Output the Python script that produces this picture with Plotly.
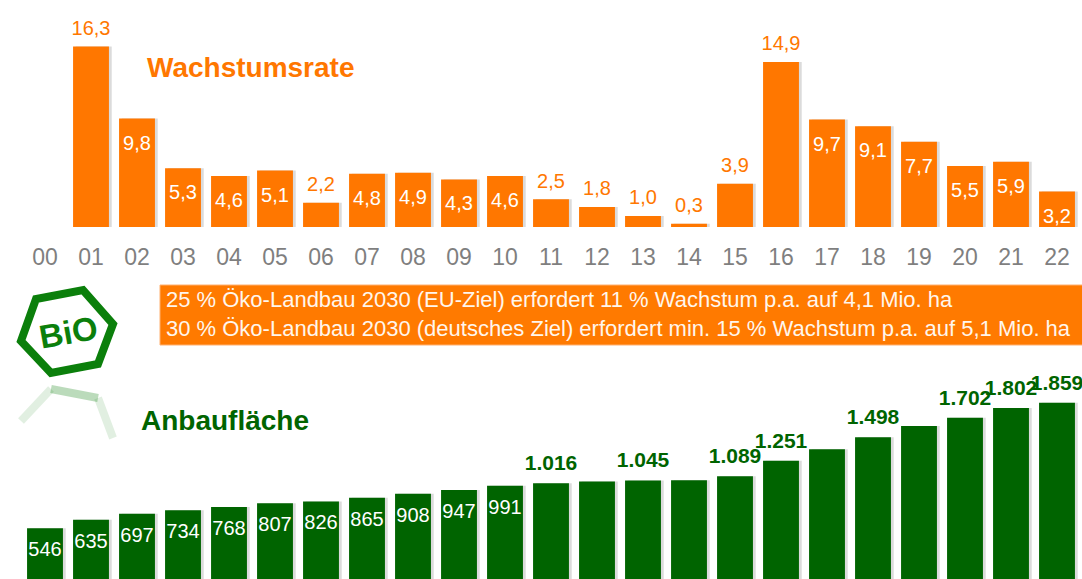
import plotly.graph_objects as go

# ---------------- data ----------------
years = ["00", "01", "02", "03", "04", "05", "06", "07", "08", "09", "10", "11",
         "12", "13", "14", "15", "16", "17", "18", "19", "20", "21", "22"]

# Wachstumsrate (%) – no value for 2000
growth = [None, 16.3, 9.8, 5.3, 4.6, 5.1, 2.2, 4.8, 4.9, 4.3, 4.6, 2.5,
          1.8, 1.0, 0.3, 3.9, 14.9, 9.7, 9.1, 7.7, 5.5, 5.9, 3.2]
growth_label_pos = ["", "out", "in", "in", "in", "in", "out", "in", "in", "in", "in", "out",
                    "out", "out", "out", "out", "out", "in", "in", "in", "in", "in", "in"]

# Anbaufläche (1.000 ha)
area = [546, 635, 697, 734, 768, 807, 826, 865, 908, 947, 991, 1016,
        1034, 1045, 1048, 1089, 1251, 1373, 1498, 1614, 1702, 1802, 1859]
area_label_pos = ["in", "in", "in", "in", "in", "in", "in", "in", "in", "in", "in", "out",
                  "", "out", "", "out", "out", "", "out", "", "out", "out", "out"]

title_growth = "Wachstumsrate"
title_area = "Anbaufläche"
banner_lines = [
    "25 % Öko-Landbau 2030 (EU-Ziel) erfordert 11 % Wachstum p.a. auf 4,1 Mio. ha",
    "30 % Öko-Landbau 2030 (deutsches Ziel) erfordert min. 15 % Wachstum p.a. auf 5,1 Mio. ha",
]

# ---------------- style ----------------
W, H = 1082, 579
ORANGE = "#FF7700"
GREEN = "#006400"
LOGO_GREEN = "#0B7F0B"
GREY = "#7F7F7F"
SANS = "Liberation Sans, Arial, sans-serif"

TOP_BASE = 227      # window y of growth baseline
TOP_PPU = 11.07     # pixels per % point
BOT_BASE = 580.5    # window y of area baseline
BOT_PPU = 0.09566   # pixels per 1.000 ha
BOT_TOP = 360       # window y of top of area plot domain


def px(x):
    return x / W


def py(y):
    return 1 - y / H


def fmt_growth(v):
    return f"{v:.1f}".replace(".", ",")


def fmt_area(v):
    return f"{v:,}".replace(",", ".")


fig = go.Figure()

# ---- top chart: growth rate ----
fig.add_trace(go.Bar(
    x=years, y=growth, marker=dict(color="rgba(90,90,90,0.22)", line=dict(width=0)),
    width=0.78, offset=-0.39 + 0.06, xaxis="x", yaxis="y", hoverinfo="skip", showlegend=False,
))
fig.add_trace(go.Bar(
    x=years, y=growth, marker=dict(color=ORANGE, line=dict(width=0)),
    width=0.78, offset=-0.39, xaxis="x", yaxis="y", hoverinfo="skip", showlegend=False,
))
g_text, g_pos, g_size, g_col = [], [], [], []
for v, p in zip(growth, growth_label_pos):
    g_text.append("" if v is None else fmt_growth(v))
    if p == "in":
        g_pos.append("bottom center"); g_size.append(24); g_col.append("white")
    else:
        g_pos.append("top center"); g_size.append(9); g_col.append(ORANGE)
fig.add_trace(go.Scatter(
    x=years, y=growth, mode="markers+text", text=g_text, textposition=g_pos,
    marker=dict(size=g_size, color="rgba(0,0,0,0)", line=dict(width=0)),
    textfont=dict(family=SANS, size=20, color=g_col),
    xaxis="x", yaxis="y", hoverinfo="skip", showlegend=False, cliponaxis=False,
))

# ---- bottom chart: area ----
fig.add_trace(go.Bar(
    x=years, y=area, marker=dict(color="rgba(90,90,90,0.22)", line=dict(width=0)),
    width=0.78, offset=-0.39 + 0.06, xaxis="x2", yaxis="y2", hoverinfo="skip", showlegend=False,
))
fig.add_trace(go.Bar(
    x=years, y=area, marker=dict(color=GREEN, line=dict(width=0)),
    width=0.78, offset=-0.39, xaxis="x2", yaxis="y2", hoverinfo="skip", showlegend=False,
))
a_text, a_pos, a_size, a_col, a_fs = [], [], [], [], []
for v, p in zip(area, area_label_pos):
    if p == "in":
        a_text.append(fmt_area(v)); a_pos.append("bottom center"); a_size.append(19)
        a_col.append("white"); a_fs.append(20)
    elif p == "out":
        a_text.append("<b>" + fmt_area(v) + "</b>"); a_pos.append("top center"); a_size.append(11)
        a_col.append(GREEN); a_fs.append(21)
    else:
        a_text.append(""); a_pos.append("top center"); a_size.append(1)
        a_col.append(GREEN); a_fs.append(21)
fig.add_trace(go.Scatter(
    x=years, y=area, mode="markers+text", text=a_text, textposition=a_pos,
    marker=dict(size=a_size, color="rgba(0,0,0,0)", line=dict(width=0)),
    textfont=dict(family=SANS, size=a_fs, color=a_col),
    xaxis="x2", yaxis="y2", hoverinfo="skip", showlegend=False, cliponaxis=False,
))

# category index -> window x: 45 + 46 * i
xr = [-45 / 46, (1082 - 45) / 46]
fig.update_layout(
    width=W, height=H, margin=dict(l=0, r=0, t=0, b=0),
    paper_bgcolor="white", plot_bgcolor="rgba(0,0,0,0)",
    barmode="overlay",
    xaxis=dict(type="category", range=xr, domain=[0, 1], anchor="y",
               showgrid=False, zeroline=False, showline=False,
               ticks="outside", ticklen=9, tickcolor="rgba(0,0,0,0)",
               tickfont=dict(family=SANS, size=23, color=GREY)),
    yaxis=dict(domain=[py(TOP_BASE), 1], range=[0, TOP_BASE / TOP_PPU], anchor="x",
               visible=False),
    xaxis2=dict(type="category", range=xr, domain=[0, 1], anchor="y2",
                visible=False),
    yaxis2=dict(domain=[0, py(BOT_TOP)],
                range=[(BOT_BASE - 579) / BOT_PPU, (BOT_BASE - BOT_TOP) / BOT_PPU],
                anchor="x2", visible=False),
)

# titles
fig.add_annotation(x=px(145), y=py(67), xref="paper", yref="paper", text="<b>" + title_growth + "</b>",
                   showarrow=False, xanchor="left", yanchor="middle",
                   font=dict(family=SANS, size=28, color=ORANGE))
fig.add_annotation(x=px(139), y=py(420), xref="paper", yref="paper", text="<b>" + title_area + "</b>",
                   showarrow=False, xanchor="left", yanchor="middle",
                   font=dict(family=SANS, size=28, color=GREEN))

# banner
fig.add_shape(type="rect", xref="paper", yref="paper", x0=px(160), x1=px(1090), y0=py(345), y1=py(285),
              fillcolor="#FF7A00", line=dict(width=1, color="#FFB070"), layer="below")
fig.add_annotation(x=px(164), y=py(314), xref="paper", yref="paper",
                   text="<br>".join(banner_lines), showarrow=False, xanchor="left", yanchor="middle",
                   align="left", font=dict(family=SANS, size=22, color="#FFF6EC"))

# BIO logo (hexagon + text) and its faded reflection
hexagon = [(21, 341), (36, 299), (83, 290), (113, 324), (98, 364), (51, 373)]
path = "M " + " L ".join(f"{px(x)},{py(y)}" for x, y in hexagon) + " Z"
fig.add_shape(type="path", xref="paper", yref="paper", path=path,
              line=dict(color=LOGO_GREEN, width=8), fillcolor="rgba(0,0,0,0)")
fig.add_annotation(x=px(68), y=py(332), xref="paper", yref="paper", text="<b>BiO</b>",
                   showarrow=False, textangle=-10, xanchor="center", yanchor="middle",
                   font=dict(family=SANS, size=33, color=LOGO_GREEN))
mirror = 381
refl = [(21, 341), (51, 373), (98, 364), (113, 324)]
refl = [(x, 2 * mirror - y) for x, y in refl]
segs = [(refl[0], refl[1], 0.12), (refl[1], refl[2], 0.28), (refl[2], refl[3], 0.12)]
for (x0, y0), (x1, y1), op in segs:
    fig.add_shape(type="line", xref="paper", yref="paper", x0=px(x0), y0=py(y0), x1=px(x1), y1=py(y1),
                  line=dict(color=f"rgba(11,127,11,{op})", width=8))

# remove the default page margin so the 1082x579 figure fills the window exactly
fig.write_html(
    "out.html",
    config={"displayModeBar": False, "staticPlot": True},
    post_script="document.body.style.margin='0';document.body.style.overflow='hidden';",
)
